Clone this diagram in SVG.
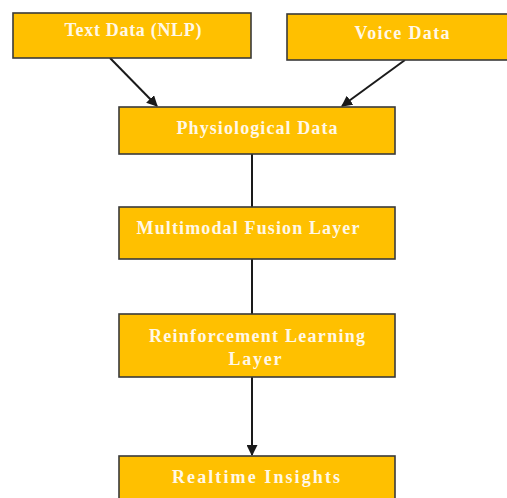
<svg xmlns="http://www.w3.org/2000/svg" width="507" height="498" viewBox="0 0 507 498">
<style>
.box{fill:#FFC000;stroke:#3a3a3a;stroke-width:1.6}
.t{font-family:"Liberation Serif","Times New Roman",serif;font-weight:bold;font-size:18px;fill:#FFF8E8;text-anchor:middle;dominant-baseline:central}
.c{stroke:#1a1a1a;stroke-width:2;fill:none}
</style>
<defs>
<marker id="ah" viewBox="0 0 10 10" refX="9" refY="5" markerWidth="5.5" markerHeight="5.5" orient="auto" markerUnits="strokeWidth">
<path d="M0,0 L10,5 L0,10 z" fill="#1a1a1a"/>
</marker>
</defs>
<rect width="507" height="498" fill="#fff"/>
<g id="connectors">
<line class="c" x1="110" y1="58" x2="157" y2="106" marker-end="url(#ah)"/>
<line class="c" x1="405" y1="60" x2="342" y2="106" marker-end="url(#ah)"/>
<line class="c" x1="252" y1="154" x2="252" y2="207"/>
<line class="c" x1="252" y1="259" x2="252" y2="314"/>
<line class="c" x1="252" y1="377" x2="252" y2="455" marker-end="url(#ah)"/>
</g>
<g id="text-data">
<rect class="box" x="13" y="13" width="238" height="45"/>
<text class="t" x="133" y="30" textLength="137" lengthAdjust="spacing">Text Data (NLP)</text>
</g>
<g id="voice-data">
<rect class="box" x="287" y="14" width="224" height="46"/>
<text class="t" x="402" y="33" textLength="95" lengthAdjust="spacing">Voice Data</text>
</g>
<g id="physiological-data">
<rect class="box" x="119" y="107" width="276" height="47"/>
<text class="t" x="257" y="128" textLength="161" lengthAdjust="spacing">Physiological Data</text>
</g>
<g id="fusion">
<rect class="box" x="119" y="207" width="276" height="52"/>
<text class="t" x="248" y="228" textLength="223" lengthAdjust="spacing">Multimodal Fusion Layer</text>
</g>
<g id="rl">
<rect class="box" x="119" y="314" width="276" height="63"/>
<text class="t" x="257" y="336" textLength="216" lengthAdjust="spacing">Reinforcement Learning</text>
<text class="t" x="255" y="359" textLength="53" lengthAdjust="spacing">Layer</text>
</g>
<g id="insights">
<rect class="box" x="119" y="456" width="276" height="46"/>
<text class="t" x="256" y="477" textLength="168" lengthAdjust="spacing">Realtime Insights</text>
</g>
</svg>
